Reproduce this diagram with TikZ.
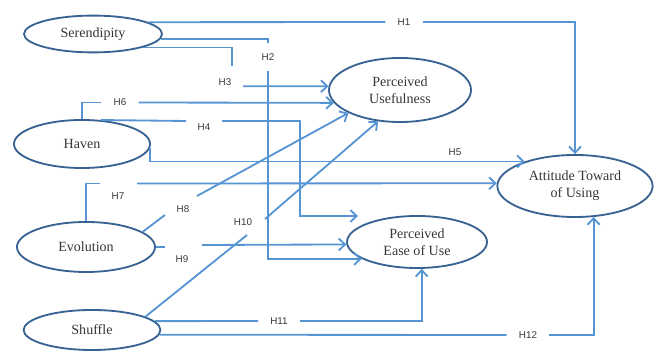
\documentclass[tikz,border=0pt]{standalone}
\usepackage{fontspec}
\setmainfont{Liberation Serif}
\setsansfont{Liberation Sans}
\usepackage{tikz}
\usetikzlibrary{shapes.geometric,arrows.meta}

\definecolor{rim}{RGB}{55,98,145}
\definecolor{wire}{RGB}{86,148,212}
\definecolor{ink}{RGB}{55,55,55}

\begin{document}
\begin{tikzpicture}[x=0.025cm,y=-0.025cm,
	factor/.style={ellipse,draw=rim,line width=1.3pt,text=ink,align=center,font=\fontsize{10}{12}\selectfont,inner sep=0pt},
	link/.style={draw=wire,line width=1.3pt},
	>={Straight Barb[length=4.5pt,width=8.5pt]},
	hyp/.style={font=\fontsize{7}{8}\selectfont\sffamily,text=ink,inner sep=1pt},
	hgap/.style={hyp,inner xsep=0.3cm},
	vgap/.style={hyp,inner ysep=0.25cm}]
\path[use as bounding box] (0,0) rectangle (660,352);

\node[factor,minimum width=3.45cm,minimum height=0.92cm] (ser) at (93,34) {Serendipity};
\node[factor,minimum width=3.4cm,minimum height=1.2cm] (hav) at (82,144) {Haven};
\node[factor,minimum width=3.45cm,minimum height=1.25cm] (evo) at (86,247) {Evolution};
\node[factor,minimum width=3.42cm,minimum height=1.0cm] (shu) at (92,330) {Shuffle};
\node[factor,minimum width=3.55cm,minimum height=1.6cm] (pu) at (400,90) {Perceived\\Usefulness};
\node[factor,minimum width=3.5cm,minimum height=1.3cm] (pe) at (417,242) {Perceived\\Ease of Use};
\node[factor,minimum width=3.88cm,minimum height=1.55cm] (atu) at (575,186) {Attitude Toward\\of Using};

\node[hgap] (h1) at (404,22) {H1};
\node[vgap] (h2) at (268,57) {H2};
\node[hyp] (h3) at (225,82) {H3};
\node[hyp] (h4) at (204,127) {H4};
\node[hyp] (h5) at (455,152) {H5};
\node[hgap] (h6) at (120,102.5) {H6};
\node[hyp] (h7) at (118,196) {H7};
\node[hyp] (h8) at (183,209) {H8};
\node[hyp] (h9) at (182,259) {H9};
\node[hyp] (h10) at (243,222) {H10};
\node[hgap] (h11) at (279,321) {H11};
\node[hgap] (h12) at (528,335) {H12};

\coordinate (h3a) at (232,66);
\coordinate (h3b) at (243,86.3);
\coordinate (h4a) at (186,121);
\coordinate (h4b) at (222,121);
\coordinate (h4c) at (300,216);
\coordinate (t4) at (358,216);
\coordinate (h7a) at (100,183.5);
\coordinate (h7b) at (137,183.5);
\coordinate (h8a) at (165,215);
\coordinate (h8b) at (197,196);
\coordinate (h9a) at (165,247);
\coordinate (h9b) at (202,245);
\coordinate (h10a) at (247,235);
\coordinate (h10b) at (265,219);

\draw[link] (ser.12) -- (h1.west);
\draw[link,->] (h1.east) -| (atu.north);
\draw[link] (ser.-4) -| (h2.north);
\draw[link,->] (h2.south) |- (pe.197);
\draw[link] (ser.-15) -| (h3a);
\draw[link,->] (h3b) -- (pu.177);
\draw[link] (hav.north) |- (h6.west);
\draw[link,->] (h6.east) -- (pu.191);
\draw[link] (hav.52) -- (h4a);
\draw[link,->] (h4b) -| (h4c) -- (t4);
\draw[link,->] (hav.-3) |- (atu.154);
\draw[link] (evo.north) |- (h7a);
\draw[link,->] (h7b) -- (atu.178);
\draw[link] (evo.15) -- (h8a);
\draw[link,->] (h8b) -- (pu.204);
\draw[link] (evo.east) -- (h9a);
\draw[link,->] (h9b) -- (pe.182);
\draw[link] (shu.14) -- (h10a);
\draw[link,->] (h10b) -- (pu.235);
\draw[link] (shu.8) -- (h11.west);
\draw[link,->] (h11.east) -| (pe.-80);
\draw[link] (shu.-4) -- (h12.west);
\draw[link,->] (h12.east) -| (atu.-59);

\end{tikzpicture}
\end{document}
